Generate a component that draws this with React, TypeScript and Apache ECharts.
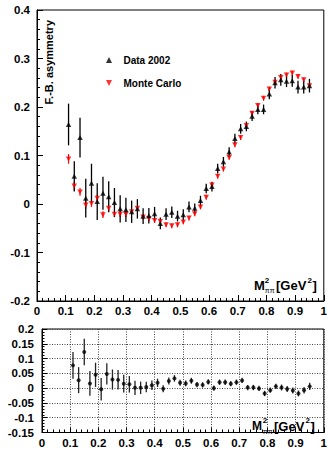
import React, { useEffect, useRef } from "react";
import * as echarts from "echarts";

// Bin centres of M^2_pipi [GeV^2]
const massSq = [
  0.11, 0.13, 0.15, 0.17, 0.19, 0.21, 0.23, 0.25, 0.27, 0.29, 0.31, 0.33, 0.35, 0.37, 0.39,
  0.41, 0.43, 0.45, 0.47, 0.49, 0.51, 0.53, 0.55, 0.57, 0.59, 0.61, 0.63, 0.65, 0.67, 0.69,
  0.71, 0.73, 0.75, 0.77, 0.79, 0.81, 0.83, 0.85, 0.87, 0.89, 0.91, 0.93, 0.95,
];

// Forward-backward asymmetry, data 2002
const dataAsym = [
  0.164, 0.057, 0.137, 0.012, 0.043, 0.005, 0.022, 0.015, 0.003, -0.01, -0.012, -0.016, -0.01, -0.025, -0.024,
  -0.02, -0.04, -0.021, -0.017, -0.025, -0.022, -0.006, -0.009, 0.007, 0.032, 0.036, 0.073, 0.087, 0.107, 0.135,
  0.155, 0.16, 0.181, 0.195, 0.195, 0.227, 0.25, 0.256, 0.253, 0.254, 0.241, 0.241, 0.244,
];
const dataErr = [
  0.043, 0.031, 0.041, 0.04, 0.04, 0.038, 0.034, 0.032, 0.03, 0.028, 0.025, 0.023, 0.02, 0.016, 0.016,
  0.014, 0.012, 0.012, 0.012, 0.011, 0.011, 0.011, 0.01, 0.01, 0.01, 0.01, 0.01, 0.01, 0.01, 0.01,
  0.01, 0.01, 0.01, 0.01, 0.01, 0.011, 0.012, 0.012, 0.012, 0.012, 0.013, 0.013, 0.014,
];

// Forward-backward asymmetry, Monte Carlo
const mcAsym = [
  0.093, 0.037, 0.025, -0.002, 0.001, 0.012, -0.022, -0.009, -0.021, -0.021, -0.021, -0.016, -0.009, -0.027, -0.03,
  -0.034, -0.036, -0.043, -0.045, -0.043, -0.037, -0.029, -0.02, -0.006, 0.014, 0.039, 0.057, 0.072, 0.096, 0.122,
  0.137, 0.162, 0.187, 0.203, 0.218, 0.237, 0.251, 0.261, 0.266, 0.27, 0.263, 0.256, 0.244,
];
const mcErr = [
  0.01, 0.009, 0.008, 0.008, 0.007, 0.007, 0.007, 0.006, 0.006, 0.006, 0.006, 0.006, 0.005, 0.005, 0.005,
  0.005, 0.005, 0.005, 0.005, 0.005, 0.005, 0.005, 0.005, 0.005, 0.005, 0.005, 0.005, 0.005, 0.005, 0.005,
  0.005, 0.005, 0.005, 0.005, 0.005, 0.005, 0.005, 0.005, 0.005, 0.005, 0.005, 0.005, 0.005,
];

// Data minus Monte Carlo (lower panel)
const diffVals = [
  0.077, 0.027, 0.122, 0.016, 0.045, -0.004, 0.048, 0.029, 0.028, 0.015, 0.013, 0.001, 0.001, 0.004, 0.01,
  0.018, -0.002, 0.024, 0.033, 0.018, 0.016, 0.025, 0.012, 0.011, 0.021, 0.0, 0.02, 0.02, 0.015, 0.02,
  0.026, 0.002, 0.002, -0.001, -0.018, -0.007, 0.006, 0.002, -0.003, -0.008, -0.018, -0.007, 0.006,
];
const diffErr = [
  0.045, 0.044, 0.045, 0.042, 0.041, 0.038, 0.036, 0.034, 0.033, 0.03, 0.028, 0.024, 0.021, 0.018, 0.016,
  0.014, 0.012, 0.012, 0.011, 0.01, 0.01, 0.01, 0.009, 0.009, 0.009, 0.009, 0.009, 0.009, 0.009, 0.009,
  0.009, 0.009, 0.009, 0.009, 0.009, 0.009, 0.009, 0.01, 0.01, 0.01, 0.01, 0.011, 0.012,
];

const FONT = "'Liberation Sans', Arial, Helvetica, sans-serif";
const BLACK = "#000000";
const RED = "#ff0000";

const labelStyle = (margin: number) => ({
  margin,
  fontFamily: FONT,
  fontWeight: "bold" as const,
  fontSize: 11.5,
  color: BLACK,
});

function valueAxis(
  gridIndex: number,
  min: number,
  max: number,
  interval: number,
  margin: number,
  tickLen: number,
  minorLen: number,
  grid: boolean
) {
  return {
    type: "value",
    gridIndex,
    min,
    max,
    interval,
    axisLine: { show: true, onZero: false, lineStyle: { color: BLACK, width: 1 } },
    axisTick: { show: true, inside: true, length: tickLen, lineStyle: { color: BLACK, width: 1 } },
    minorTick: { show: true, splitNumber: 5, length: minorLen, lineStyle: { color: BLACK, width: 1 } },
    splitLine: {
      show: grid,
      lineStyle: { color: "#444", width: 1, type: [1, 1.5] },
    },
    minorSplitLine: { show: false },
    axisLabel: labelStyle(margin),
  };
}

function errorBarSeries(
  name: string,
  axisIndex: number,
  values: number[],
  errors: number[],
  color: string,
  width: number
) {
  return {
    type: "custom",
    name,
    coordinateSystem: "cartesian2d",
    xAxisIndex: axisIndex,
    yAxisIndex: axisIndex,
    data: massSq.map((m, i) => [m, values[i], errors[i]]),
    encode: { x: 0, y: 1 },
    silent: true,
    renderItem: (_params: any, api: any) => {
      const x = api.value(0);
      const y = api.value(1);
      const e = api.value(2);
      const hi = api.coord([x, y + e]);
      const lo = api.coord([x, y - e]);
      return {
        type: "line",
        shape: { x1: hi[0], y1: hi[1], x2: lo[0], y2: lo[1] },
        style: { stroke: color, lineWidth: width },
      };
    },
  };
}

function axisTitle(x: number, y: number, big: number) {
  // M^2_{pipi} [GeV^2]
  const b = { fontFamily: FONT, fontWeight: "bold", fill: BLACK, verticalAlign: "middle", align: "left" };
  return {
    type: "group",
    children: [
      { type: "text", x, y, style: { ...b, text: "M", fontSize: big } },
      { type: "text", x: x + 10.8, y: y - 5.5, style: { ...b, text: "2", fontSize: 8 } },
      { type: "text", x: x + 10.8, y: y + 5, style: { ...b, text: "ππ", fontSize: 7, fontWeight: "normal" } },
      { type: "text", x: x + 22, y, style: { ...b, text: "[GeV", fontSize: 13 } },
      { type: "text", x: x + 53.5, y: y - 5.5, style: { ...b, text: "2", fontSize: 8 } },
      { type: "text", x: x + 58.5, y, style: { ...b, text: "]", fontSize: 13 } },
    ],
  };
}

export default function App() {
  const ref = useRef<HTMLDivElement>(null);

  useEffect(() => {
    if (!ref.current) return;
    const chart = echarts.init(ref.current, undefined, { renderer: "svg" });

    const option = {
      animation: false,
      backgroundColor: "#ffffff",
      grid: [
        { left: 37, top: 10, width: 290, height: 291, show: true, borderColor: BLACK, borderWidth: 1 },
        { left: 42, top: 329, width: 286.5, height: 105, show: true, borderColor: BLACK, borderWidth: 1 },
      ],
      xAxis: [
        valueAxis(0, 0, 1, 0.1, 4, 6, 3, false),
        valueAxis(1, 0, 1, 0.1, 4.5, 5, 3, true),
      ],
      yAxis: [
        valueAxis(0, -0.2, 0.4, 0.1, 7, 6, 3, false),
        valueAxis(1, -0.15, 0.2, 0.05, 8, 5, 2.5, true),
      ],
      legend: {
        left: 101,
        top: 49,
        padding: 5,
        orient: "vertical",
        itemWidth: 7,
        itemHeight: 6,
        itemGap: 11,
        selectedMode: false,
        data: [
          { name: "Data 2002", icon: "path://M5,0L10,10L0,10Z" },
          { name: "Monte Carlo", icon: "path://M0,0L10,0L5,10Z" },
        ],
        textStyle: {
          fontFamily: FONT,
          fontWeight: "bold",
          fontSize: 10,
          lineHeight: 12,
          color: BLACK,
          padding: [0, 0, 0, 6],
        },
      },
      graphic: [
        {
          type: "text",
          x: 49,
          y: 20,
          rotation: Math.PI / 2,
          style: {
            text: "F.-B. asymmetry",
            fontFamily: FONT,
            fontWeight: "bold",
            fontSize: 11,
            fill: BLACK,
            align: "right",
            verticalAlign: "middle",
          },
        },
        axisTitle(254, 285.5, 13),
        axisTitle(252, 426, 12),
      ],
      series: [
        errorBarSeries("mc-err", 0, mcAsym, mcErr, RED, 1.2),
        {
          type: "scatter",
          name: "Monte Carlo",
          xAxisIndex: 0,
          yAxisIndex: 0,
          symbol: "triangle",
          symbolRotate: 180,
          symbolSize: [5.5, 5],
          itemStyle: { color: RED },
          data: massSq.map((m, i) => [m, mcAsym[i]]),
        },
        errorBarSeries("data-err", 0, dataAsym, dataErr, BLACK, 1.3),
        {
          type: "scatter",
          name: "Data 2002",
          xAxisIndex: 0,
          yAxisIndex: 0,
          symbol: "triangle",
          symbolSize: [5.5, 5],
          itemStyle: { color: BLACK },
          data: massSq.map((m, i) => [m, dataAsym[i]]),
        },
        errorBarSeries("diff-err", 1, diffVals, diffErr, "#222222", 1.3),
        {
          type: "scatter",
          name: "Data - MC",
          xAxisIndex: 1,
          yAxisIndex: 1,
          symbol: "circle",
          symbolSize: 4,
          itemStyle: { color: BLACK },
          data: massSq.map((m, i) => [m, diffVals[i]]),
        },
      ],
    };

    chart.setOption(option as any);
    return () => chart.dispose();
  }, []);

  return (
    <div
      ref={ref}
      style={{ position: "absolute", left: 0, top: 0, width: 330, height: 449 }}
    />
  );
}
